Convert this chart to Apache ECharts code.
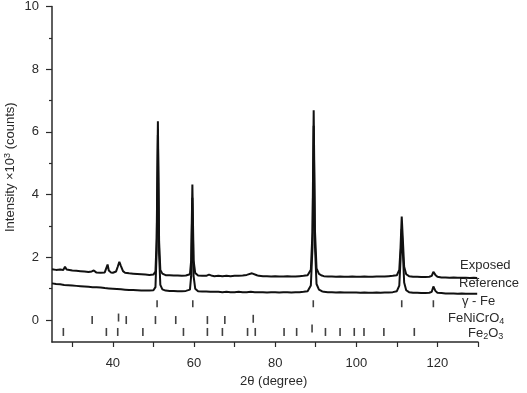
<!DOCTYPE html>
<html>
<head>
<meta charset="utf-8" />
<script src="https://cdn.jsdelivr.net/npm/echarts@6/dist/echarts.min.js"></script>
<title>xrd</title>
<style>
* {margin:0; padding:0;}
body {background:#fff;}
#main {width:527px; height:393px;}
</style>
</head>
<body>
<div id="main"></div>
<script>
// 2theta / intensity (x10^3 counts)
var exposed = [
  [25,1.62],[26,1.60],[27,1.61],[27.8,1.60],[28.2,1.70],[28.6,1.61],[29,1.59],[30,1.58],[31,1.57],[32,1.56],
  [33,1.55],[34,1.53],[34.8,1.55],[35.3,1.58],[35.9,1.52],[37,1.51],[38,1.52],[38.4,1.58],[38.7,1.77],[39.0,1.58],
  [39.5,1.52],[40,1.51],[40.8,1.55],[41.2,1.70],[41.6,1.86],[42.0,1.72],[42.5,1.56],[43,1.51],[44,1.49],[45,1.48],
  [46,1.47],[47,1.46],[48,1.45],[49,1.44],[50,1.45],[50.5,1.55],[50.8,2.6],[51.1,6.34],[51.4,2.5],[51.7,1.6],
  [52.2,1.48],[53,1.43],[54,1.43],[55,1.42],[56,1.42],[57,1.41],[58,1.42],[59,1.46],[59.3,1.9],[59.6,4.32],
  [59.9,1.9],[60.3,1.5],[61,1.42],[62,1.41],[63,1.41],[63.7,1.45],[64.5,1.41],[65,1.40],[66,1.41],[67,1.40],
  [68,1.41],[69,1.40],[70,1.41],[71,1.41],[72,1.42],[73,1.44],[74.3,1.49],[75.5,1.43],[76,1.41],[77,1.40],
  [78,1.40],[79,1.39],[80,1.40],[81,1.39],[82,1.39],[83,1.40],[84,1.39],[85,1.39],[86,1.40],[87,1.41],
  [88,1.43],[88.8,1.6],[89.2,2.8],[89.5,6.69],[89.8,2.9],[90.2,1.65],[90.8,1.47],[91.5,1.42],[92,1.40],[93,1.39],
  [94,1.39],[95,1.38],[96,1.39],[97,1.38],[98,1.38],[99,1.39],[100,1.38],[101,1.38],[102,1.39],[103,1.38],
  [104,1.38],[105,1.39],[106,1.39],[107,1.39],[108,1.40],[109,1.41],[110,1.43],[110.6,1.6],[110.9,2.3],[111.2,3.30],
  [111.5,2.5],[111.8,1.7],[112.3,1.46],[113,1.40],[114,1.38],[115,1.38],[116,1.37],[117,1.37],[118,1.38],[118.6,1.41],
  [119.0,1.54],[119.5,1.44],[120,1.38],[121,1.36],[122,1.36],[123,1.35],[124,1.36],[125,1.35],[126,1.35],[127,1.35],
  [128,1.34],[129,1.35],[129.8,1.34]
];
var reference = [
  [25,1.17],[26,1.15],[27,1.14],[28,1.12],[29,1.11],[30,1.10],[31,1.09],[32,1.08],[33,1.07],[34,1.06],
  [35,1.05],[36,1.05],[37,1.04],[38,1.02],[39,1.01],[40,1.00],[41,0.99],[42,0.98],[43,0.97],[44,0.96],
  [45,0.96],[46,0.95],[47,0.94],[48,0.94],[49,0.94],[50,0.95],[50.5,1.05],[50.8,2.2],[51.1,5.9],[51.4,2.1],
  [51.7,1.12],[52.2,0.98],[53,0.94],[54,0.93],[55,0.93],[56,0.92],[57,0.92],[58,0.93],[59,0.97],[59.3,1.4],
  [59.6,3.9],[59.9,1.4],[60.3,1.0],[61,0.92],[62,0.91],[63,0.91],[64,0.90],[65,0.90],[66,0.90],[67,0.89],
  [68,0.90],[69,0.89],[70,0.89],[71,0.90],[72,0.89],[73,0.89],[74,0.90],[75,0.89],[76,0.89],[77,0.89],
  [78,0.88],[79,0.89],[80,0.89],[81,0.88],[82,0.89],[83,0.89],[84,0.88],[85,0.89],[86,0.89],[87,0.90],
  [88,0.92],[88.8,1.1],[89.2,2.3],[89.5,6.2],[89.8,2.4],[90.2,1.15],[90.8,0.97],[91.5,0.92],[92,0.90],[93,0.89],
  [94,0.89],[95,0.88],[96,0.89],[97,0.88],[98,0.88],[99,0.88],[100,0.88],[101,0.87],[102,0.88],[103,0.87],
  [104,0.87],[105,0.88],[106,0.87],[107,0.88],[108,0.88],[109,0.89],[110,0.92],[110.6,1.1],[110.9,1.9],[111.2,2.9],
  [111.5,2.1],[111.8,1.2],[112.3,0.95],[113,0.89],[114,0.87],[115,0.87],[116,0.86],[117,0.86],[118,0.87],[118.6,0.90],
  [119.0,1.07],[119.5,0.93],[120,0.87],[121,0.86],[122,0.85],[123,0.85],[124,0.85],[125,0.84],[126,0.85],[127,0.84],
  [128,0.84],[129,0.84],[129.8,0.84]
];

// reflection positions (2theta)
var gammaFe = [50.9, 59.7, 89.4, 111.2, 119.0];
var feNiCrO4 = [34.9, 41.4, 43.3, 50.5, 55.5, 63.3, 67.6, 74.6];
var fe2o3 = [27.8, 38.4, 41.2, 47.4, 57.4, 63.3, 67.0, 73.2, 75.1, 82.2, 85.3, 89.1, 92.4, 96.0, 99.5, 101.9, 106.8, 114.3];
var raised = {41.4: 0.08, 74.6: 0.04, 89.1: -0.27};

var xTicks = [30, 40, 50, 60, 70, 80, 90, 100, 110, 120, 130];
var xLabels = [40, 60, 80, 100, 120];
var yLabels = [0, 2, 4, 6, 8, 10];
var yMinor = [1, 3, 5, 7, 9];

function rowData(list, level) {
  return list.map(function (v) {
    return [v, raised[v] !== undefined ? raised[v] : level];
  });
}

var chart = echarts.init(document.getElementById('main'));
var axisCol = '#2a2a2a';
var font = 'Liberation Sans';
chart.setOption({
  animation: false,
  grid: {left: 52, right: 49, top: 2, bottom: 51, containLabel: false},
  xAxis: {
    type: 'value', min: 25, max: 130,
    axisLine: {onZero: false, lineStyle: {color: axisCol, width: 1.5}},
    axisTick: {customValues: xTicks, length: 5, lineStyle: {color: axisCol, width: 1.2}},
    axisLabel: {customValues: xLabels, fontSize: 13, color: axisCol, margin: 15, fontFamily: font},
    splitLine: {show: false}
  },
  yAxis: [{
    type: 'value', min: -0.7, max: 10,
    axisLine: {show: true, onZero: false, lineStyle: {color: axisCol, width: 1.5}},
    axisTick: {customValues: yLabels, length: 6, lineStyle: {color: axisCol, width: 1.2}},
    axisLabel: {customValues: yLabels, fontSize: 13, color: axisCol, margin: 13, fontFamily: font},
    splitLine: {show: false}
  }, {
    type: 'value', min: -0.7, max: 10, position: 'left',
    axisLine: {show: false, onZero: false},
    axisTick: {customValues: yMinor, length: 3, lineStyle: {color: axisCol, width: 1.2}},
    axisLabel: {show: false},
    splitLine: {show: false}
  }],
  series: [
    {type: 'line', data: reference, showSymbol: false, lineStyle: {color: '#111', width: 2}},
    {type: 'line', data: exposed, showSymbol: false, lineStyle: {color: '#111', width: 2}},
    {type: 'scatter', data: rowData(gammaFe, 0.52), symbol: 'rect', symbolSize: [1.6, 7], itemStyle: {color: '#111'}},
    {type: 'scatter', data: rowData(feNiCrO4, 0.0), symbol: 'rect', symbolSize: [1.6, 8], itemStyle: {color: '#111'}},
    {type: 'scatter', data: rowData(fe2o3, -0.38), symbol: 'rect', symbolSize: [1.6, 8], itemStyle: {color: '#111'}}
  ],
  graphic: [
    {type: 'text', left: 460, top: 259, style: {text: 'Exposed', fontSize: 13, fill: axisCol, fontFamily: font}},
    {type: 'text', left: 459, top: 277, style: {text: 'Reference', fontSize: 13, fill: axisCol, fontFamily: font}},
    {type: 'text', left: 462, top: 295, style: {text: 'γ - Fe', fontSize: 13, fill: axisCol, fontFamily: font}},
    {type: 'text', left: 448, top: 312, style: {
      text: 'FeNiCrO{s|4}', fontSize: 13, fill: axisCol, fontFamily: font,
      rich: {s: {fontSize: 9, verticalAlign: 'bottom', padding: [7, 0, 0, 0], fontFamily: font}}
    }},
    {type: 'text', left: 468, top: 327, style: {
      text: 'Fe{s|2}O{s|3}', fontSize: 13, fill: axisCol, fontFamily: font,
      rich: {s: {fontSize: 9, verticalAlign: 'bottom', padding: [7, 0, 0, 0], fontFamily: font}}
    }},
    {type: 'text', left: 240, top: 375, style: {text: '2θ (degree)', fontSize: 13, fill: axisCol, fontFamily: font}},
    {type: 'text', x: 3, y: 232, rotation: Math.PI / 2, style: {
      text: 'Intensity ×10{p|3} (counts)', fontSize: 13, fill: axisCol, fontFamily: font,
      rich: {p: {fontSize: 9, verticalAlign: 'top', padding: [0, 0, 6, 0], fontFamily: font}}
    }}
  ]
});
</script>
</body>
</html>
